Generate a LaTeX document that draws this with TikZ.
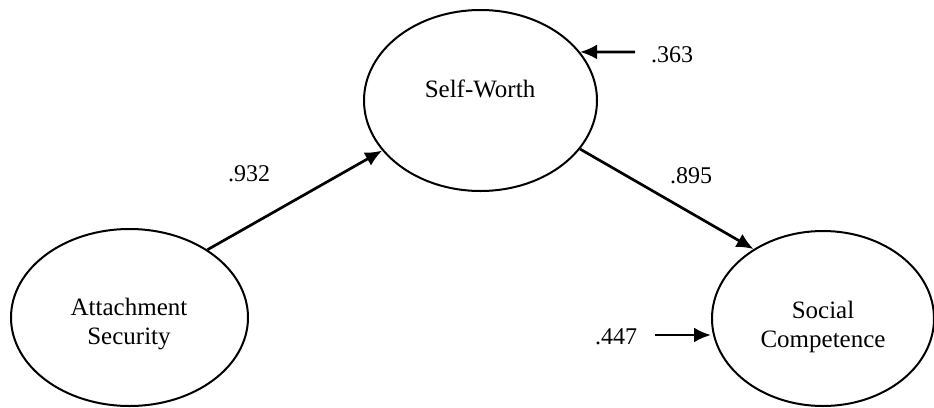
\documentclass[tikz,border=0pt]{standalone}
\usepackage{fontspec}
\setmainfont{Liberation Serif}
\usetikzlibrary{shapes.geometric,arrows.meta}

\tikzset{
  construct/.style={draw, ellipse, line width=2pt, inner sep=0pt},
  caption/.style={font=\fontsize{25}{29}\selectfont, align=center, inner sep=0pt},
  coef/.style={font=\fontsize{24}{28}\selectfont, inner sep=0pt},
  path/.style={line width=2.7pt, -{Latex[length=17pt,width=15pt]}}
}

\begin{document}
\begin{tikzpicture}[x=1pt,y=-1pt]
  \useasboundingbox (0,0) rectangle (934,407);

  % latent constructs
  \node[construct, minimum width=237pt, minimum height=177pt] (att) at (129.5,317.5) {};
  \node[construct, minimum width=233pt, minimum height=181pt] (sw)  at (480.5,100.5) {};
  \node[construct, minimum width=222pt, minimum height=175pt] (soc) at (823,318.5) {};

  % construct names
  \node[caption] (attname) at (129,324) {Attachment\\Security};
  \node[caption, anchor=base] (swname) at (480,97) {Self-Worth};
  \node[caption] (socname) at (823,327) {Social\\Competence};

  % structural paths
  \draw[path] (att.41.5) -- (sw.207.6);
  \draw[path] (sw.-26.9) -- (soc.135.2);

  % disturbance terms
  \coordinate (e363) at (635,52);
  \coordinate (e447) at (655,335);
  \draw[path] (e363) -- (sw.26.4);
  \draw[path] (e447) -- (e447 -| soc.west);

  % coefficients
  \node[coef] (c932) at (249,174) {.932};
  \node[coef] (c895) at (691,176) {.895};
  \node[coef] (c363) at (672,55) {.363};
  \node[coef] (c447) at (616,337) {.447};
\end{tikzpicture}
\end{document}
